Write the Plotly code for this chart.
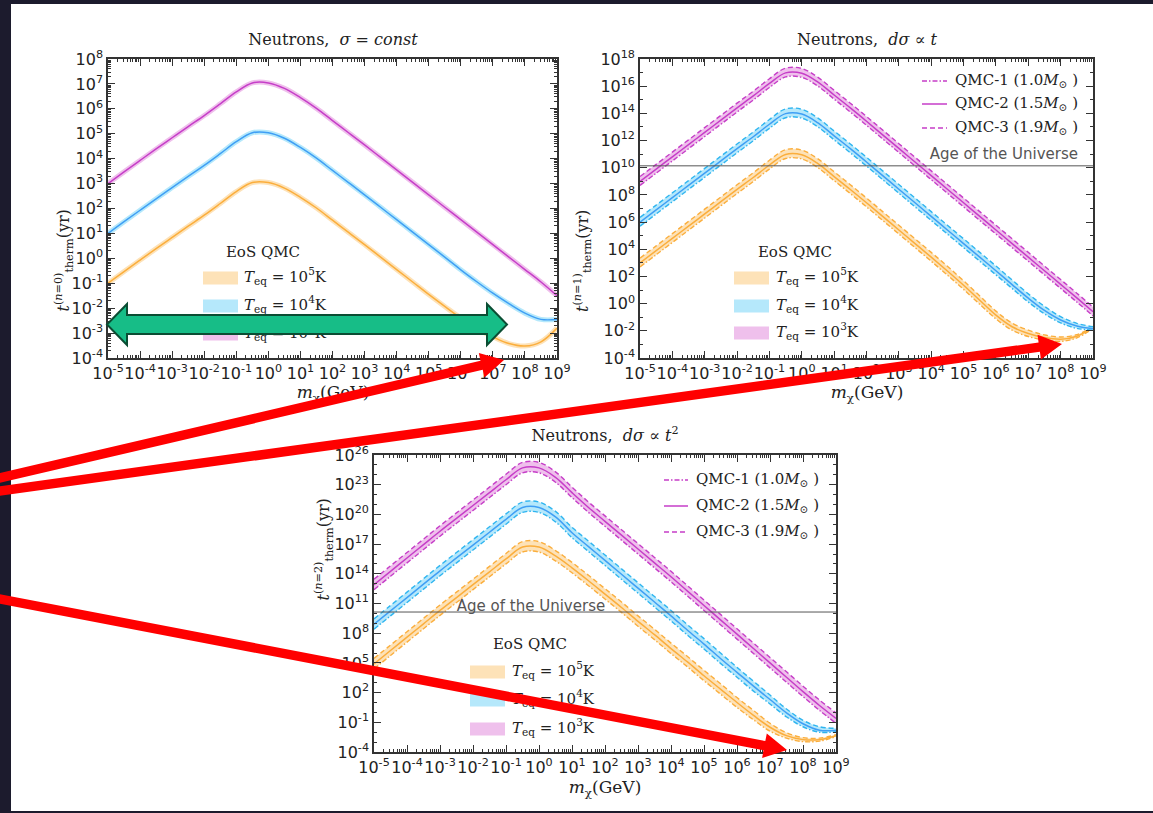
import numpy as np
import plotly.graph_objects as go

W, H = 1153, 813

logm = [-5, -4.5, -4, -3.5, -3, -2.5, -2, -1.5, -1, -0.5, 0, 0.5, 1, 1.5, 2, 2.5, 3, 3.5, 4, 4.5,
        5, 5.5, 6, 6.5, 7, 7.5, 8, 8.5, 9]

# panel 1: sigma = const, log10(t_therm / yr)
p1_T3 = [3.0, 3.47, 3.93, 4.39, 4.84, 5.29, 5.73, 6.2, 6.68, 7.04, 7.04, 6.82, 6.45, 6.02, 5.53, 5.04, 4.55, 4.05, 3.55, 3.05,
         2.55, 2.05, 1.55, 1.05, 0.55, 0.05, -0.45, -0.95, -1.5]
p1_T4 = [1.0, 1.47, 1.93, 2.39, 2.84, 3.29, 3.73, 4.2, 4.68, 5.04, 5.04, 4.82, 4.45, 4.02, 3.53, 3.04, 2.55, 2.05, 1.55, 1.05,
         0.55, 0.05, -0.46, -0.94, -1.4, -1.82, -2.2, -2.45, -2.45]
p1_T5 = [-1.0, -0.53, -0.07, 0.39, 0.84, 1.29, 1.73, 2.2, 2.68, 3.04, 3.04, 2.82, 2.45, 2.02, 1.53, 1.04, 0.55, 0.05, -0.45, -0.95,
         -1.45, -1.93, -2.4, -2.82, -3.15, -3.42, -3.52, -3.35, -2.8]

# panel 2: dsigma ~ t   (q1 = QMC-1, q2 = QMC-2, q3 = QMC-3)
p2_T3_q1 = [8.7, 9.6, 10.5, 11.4, 12.3, 13.2, 14.1, 14.98, 15.9, 16.68, 16.65, 16.0, 15.05, 14.1, 13.12, 12.12, 11.12, 10.12, 9.12, 8.12,
            7.12, 6.12, 5.12, 4.12, 3.12, 2.12, 1.12, 0.12, -0.9]
p2_T3_q2 = [9.0, 9.9, 10.8, 11.7, 12.6, 13.5, 14.4, 15.28, 16.2, 16.98, 16.95, 16.3, 15.35, 14.4, 13.42, 12.42, 11.42, 10.42, 9.42, 8.42,
            7.42, 6.42, 5.42, 4.42, 3.42, 2.42, 1.42, 0.42, -0.6]
p2_T3_q3 = [9.35, 10.25, 11.15, 12.05, 12.95, 13.85, 14.75, 15.63, 16.55, 17.33, 17.3, 16.65, 15.7, 14.75, 13.77, 12.77, 11.77, 10.77, 9.77, 8.77,
            7.77, 6.77, 5.77, 4.77, 3.77, 2.77, 1.77, 0.77, -0.25]
p2_T4_q1 = [5.7, 6.6, 7.5, 8.4, 9.3, 10.2, 11.1, 11.98, 12.9, 13.68, 13.65, 13.0, 12.05, 11.1, 10.12, 9.12, 8.12, 7.12, 6.12, 5.12,
            4.12, 3.12, 2.12, 1.12, 0.12, -0.75, -1.42, -1.82, -1.95]
p2_T4_q2 = [6.0, 6.9, 7.8, 8.7, 9.6, 10.5, 11.4, 12.28, 13.2, 13.98, 13.95, 13.3, 12.35, 11.4, 10.42, 9.42, 8.42, 7.42, 6.42, 5.42,
            4.42, 3.42, 2.42, 1.4, 0.4, -0.5, -1.2, -1.65, -1.85]
p2_T4_q3 = [6.35, 7.25, 8.15, 9.05, 9.95, 10.85, 11.75, 12.63, 13.55, 14.33, 14.3, 13.65, 12.7, 11.75, 10.77, 9.77, 8.77, 7.77, 6.77, 5.77,
            4.77, 3.77, 2.77, 1.74, 0.72, -0.2, -0.95, -1.45, -1.7]
p2_T5_q1 = [2.7, 3.6, 4.5, 5.4, 6.3, 7.2, 8.1, 8.98, 9.9, 10.68, 10.65, 10.0, 9.05, 8.1, 7.12, 6.12, 5.12, 4.12, 3.12, 2.1,
            1.05, -0.05, -1.12, -1.95, -2.42, -2.68, -2.78, -2.52, -1.82]
p2_T5_q2 = [3.0, 3.9, 4.8, 5.7, 6.6, 7.5, 8.4, 9.28, 10.2, 10.98, 10.95, 10.3, 9.35, 8.4, 7.42, 6.42, 5.42, 4.42, 3.42, 2.4,
            1.35, 0.25, -0.85, -1.7, -2.2, -2.5, -2.62, -2.4, -1.75]
p2_T5_q3 = [3.35, 4.25, 5.15, 6.05, 6.95, 7.85, 8.75, 9.63, 10.55, 11.33, 11.3, 10.65, 9.7, 8.75, 7.77, 6.77, 5.77, 4.77, 3.77, 2.75,
            1.68, 0.57, -0.55, -1.43, -1.95, -2.3, -2.45, -2.28, -1.68]

# panel 3: dsigma ~ t^2
p3_T3_q1 = [12.4, 13.75, 15.1, 16.45, 17.8, 19.1, 20.4, 21.7, 23.0, 24.2, 24.2, 23.25, 21.7, 20.2, 18.8, 17.4, 16.0, 14.6, 13.2, 11.75,
            10.3, 8.85, 7.4, 5.95, 4.5, 3.05, 1.6, 0.2, -1.1]
p3_T3_q2 = [12.9, 14.25, 15.6, 16.95, 18.3, 19.6, 20.9, 22.2, 23.5, 24.7, 24.7, 23.75, 22.2, 20.7, 19.3, 17.9, 16.5, 15.1, 13.7, 12.25,
            10.8, 9.35, 7.9, 6.45, 5.0, 3.55, 2.1, 0.7, -0.6]
p3_T3_q3 = [13.45, 14.8, 16.15, 17.5, 18.85, 20.15, 21.45, 22.75, 24.05, 25.25, 25.25, 24.3, 22.75, 21.25, 19.85, 18.45, 17.05, 15.65, 14.25, 12.8,
            11.35, 9.9, 8.45, 7.0, 5.55, 4.1, 2.65, 1.25, -0.05]
p3_T4_q1 = [8.4, 9.75, 11.1, 12.45, 13.8, 15.1, 16.4, 17.7, 19.0, 20.2, 20.2, 19.25, 17.65, 16.25, 14.85, 13.45, 12.05, 10.65, 9.25, 7.8,
            6.4, 4.95, 3.55, 2.15, 0.85, -0.45, -1.45, -2.0, -1.95]
p3_T4_q2 = [8.9, 10.25, 11.6, 12.95, 14.3, 15.6, 16.9, 18.2, 19.5, 20.7, 20.7, 19.75, 18.15, 16.75, 15.35, 13.95, 12.55, 11.15, 9.75, 8.3,
            6.9, 5.45, 4.05, 2.65, 1.3, -0.05, -1.15, -1.8, -1.8]
p3_T4_q3 = [9.45, 10.8, 12.15, 13.5, 14.85, 16.15, 17.45, 18.75, 20.05, 21.25, 21.25, 20.3, 18.7, 17.3, 15.9, 14.5, 13.1, 11.7, 10.3, 8.85,
            7.45, 6.0, 4.55, 3.15, 1.75, 0.35, -0.8, -1.45, -1.6]
p3_T5_q1 = [4.4, 5.75, 7.1, 8.45, 9.8, 11.1, 12.4, 13.7, 15.0, 16.2, 16.2, 15.3, 14.1, 12.8, 11.45, 10.1, 8.7, 7.35, 5.95, 4.6,
            3.2, 1.85, 0.5, -0.75, -1.9, -2.6, -2.95, -2.9, -2.45]
p3_T5_q2 = [4.9, 6.25, 7.6, 8.95, 10.3, 11.6, 12.9, 14.2, 15.5, 16.7, 16.7, 15.8, 14.6, 13.3, 11.95, 10.6, 9.2, 7.85, 6.45, 5.1,
            3.7, 2.35, 1.0, -0.3, -1.5, -2.35, -2.75, -2.75, -2.35]
p3_T5_q3 = [5.45, 6.8, 8.15, 9.5, 10.85, 12.15, 13.45, 14.75, 16.05, 17.25, 17.25, 16.35, 15.15, 13.85, 12.5, 11.15, 9.75, 8.4, 7.0, 5.65,
            4.25, 2.9, 1.5, 0.2, -1.1, -2.05, -2.55, -2.6, -2.25]

age_universe = 1.38e10  # yr

x_exps = list(range(-5, 10))
x_ticktext = [f"10<sup>{e}</sup>" for e in x_exps]
y1_exps = list(range(-4, 9))
y2_exps = list(range(-4, 19, 2))
y3_exps = list(range(-4, 27, 3))
temp_labels = ["<i>T</i><sub>eq</sub> = 10<sup>5</sup>K", "<i>T</i><sub>eq</sub> = 10<sup>4</sup>K", "<i>T</i><sub>eq</sub> = 10<sup>3</sup>K"]
qmc_labels = ["QMC-1 (1.0<i>M</i><sub>⊙</sub> )", "QMC-2 (1.5<i>M</i><sub>⊙</sub> )", "QMC-3 (1.9<i>M</i><sub>⊙</sub> )"]

SERIF = "DejaVu Serif"
SANS = "DejaVu Sans"
ORANGE, BLUE, MAG = "#fbae3c", "#3f9ff5", "#c63ec8"
BLUE_D = "#2fb5f0"
ORANGE_B, BLUE_B, MAG_B = "#fde2b8", "#b5e8fb", "#efc0ec"

M = 10 ** np.array(logm, dtype=float)


def pxx(x):
    return x / W


def pyy(y):
    return 1 - y / H


fig = go.Figure()

# ---- panel 1
for vals, col, band in [(p1_T5, ORANGE, ORANGE_B), (p1_T4, BLUE, BLUE_B), (p1_T3, MAG, MAG_B)]:
    yv = 10 ** np.array(vals)
    fig.add_trace(go.Scatter(x=M, y=yv, mode="lines", xaxis="x", yaxis="y",
                             line=dict(color=band, width=5, shape="spline"), hoverinfo="skip"))
    fig.add_trace(go.Scatter(x=M, y=yv, mode="lines", xaxis="x", yaxis="y",
                             line=dict(color=col, width=1.5, shape="spline")))

# ---- panels 2 and 3
DASHDOT = "5px,2px,1.5px,2px"
DASH = "5px,3px"
panels = [
    ("x2", "y2", [(p2_T5_q1, p2_T5_q2, p2_T5_q3, ORANGE, ORANGE, ORANGE_B),
                  (p2_T4_q1, p2_T4_q2, p2_T4_q3, BLUE, BLUE_D, BLUE_B),
                  (p2_T3_q1, p2_T3_q2, p2_T3_q3, MAG, MAG, MAG_B)]),
    ("x3", "y3", [(p3_T5_q1, p3_T5_q2, p3_T5_q3, ORANGE, ORANGE, ORANGE_B),
                  (p3_T4_q1, p3_T4_q2, p3_T4_q3, BLUE, BLUE_D, BLUE_B),
                  (p3_T3_q1, p3_T3_q2, p3_T3_q3, MAG, MAG, MAG_B)]),
]
for xa, ya, groups in panels:
    for q1, q2, q3, col, dcol, band in groups:
        y1, y2, y3 = (10 ** np.array(v) for v in (q1, q2, q3))
        fig.add_trace(go.Scatter(x=M, y=y3, mode="lines", xaxis=xa, yaxis=ya,
                                 line=dict(width=0, shape="spline"), hoverinfo="skip"))
        fig.add_trace(go.Scatter(x=M, y=y1, mode="lines", xaxis=xa, yaxis=ya, fill="tonexty",
                                 fillcolor=band, line=dict(width=0, shape="spline"), hoverinfo="skip"))
        fig.add_trace(go.Scatter(x=M, y=y1, mode="lines", xaxis=xa, yaxis=ya,
                                 line=dict(color=dcol, width=1.4, dash=DASHDOT, shape="spline")))
        fig.add_trace(go.Scatter(x=M, y=y3, mode="lines", xaxis=xa, yaxis=ya,
                                 line=dict(color=dcol, width=1.4, dash=DASH, shape="spline")))
        fig.add_trace(go.Scatter(x=M, y=y2, mode="lines", xaxis=xa, yaxis=ya,
                                 line=dict(color=col, width=1.5, shape="spline")))
    fig.add_trace(go.Scatter(x=[M[0], M[-1]], y=[age_universe, age_universe], mode="lines",
                             xaxis=xa, yaxis=ya, line=dict(color="#555", width=1)))

# ---- free text on a full-figure overlay axis (pixel coordinates)
texts = [
    (333, 41, "Neutrons,  <i>σ</i> = <i>const</i>", SERIF, 16, "#222", "middle center"),
    (867, 41, "Neutrons,  <i>dσ</i> ∝ <i>t</i>", SERIF, 16, "#222", "middle center"),
    (605, 437, "Neutrons,  <i>dσ</i> ∝ <i>t</i><sup>2</sup>", SERIF, 16, "#222", "middle center"),
    (333, 394, "<i>m</i><sub>χ</sub>(GeV)", SERIF, 17, "#222", "middle center"),
    (867, 394, "<i>m</i><sub>χ</sub>(GeV)", SERIF, 17, "#222", "middle center"),
    (605, 789, "<i>m</i><sub>χ</sub>(GeV)", SERIF, 17, "#222", "middle center"),
    (263, 253, "EoS QMC", SERIF, 15, "#222", "middle center"),
    (795, 253, "EoS QMC", SERIF, 15, "#222", "middle center"),
    (530, 645, "EoS QMC", SERIF, 15, "#222", "middle center"),
    (1078, 155, "Age of the Universe", SANS, 15, "#555", "middle left"),
    (531, 607, "Age of the Universe", SANS, 15, "#555", "middle center"),
]
leg_rows = [(244, [278, 306, 334]), (776, [278, 306, 333]), (512, [672, 700, 729])]
for x0, ys in leg_rows:
    for lab, yy in zip(temp_labels, ys):
        texts.append((x0, yy, lab, SERIF, 15, "#222", "middle right"))
qmc_rows = [(955, [81, 104, 128]), (696, [480, 506, 532])]
for x0, ys in qmc_rows:
    for lab, yy in zip(qmc_labels, ys):
        texts.append((x0, yy, lab, SERIF, 15, "#222", "middle right"))

for x, y, t, fam, size, col, pos in texts:
    fig.add_trace(go.Scatter(x=[x], y=[y], mode="text", text=[t], textposition=pos,
                             textfont=dict(family=fam, size=size, color=col),
                             xaxis="x4", yaxis="y4", cliponaxis=False, hoverinfo="skip"))


# ---- axes
def log_axis(exps, labels, rng, domain, anchor, minor_vals):
    return dict(type="log", range=rng, domain=domain, anchor=anchor,
                tickmode="array", tickvals=[10.0 ** e for e in exps], ticktext=labels,
                showline=True, linecolor="#333", linewidth=1.6, mirror="allticks",
                ticks="inside", ticklen=7, tickwidth=1, tickcolor="#333",
                tickfont=dict(family=SANS, size=16, color="#222"), tickangle=0,
                showgrid=False, zeroline=False, fixedrange=True, automargin=False,
                minor=dict(tickmode="array", tickvals=minor_vals, ticks="inside", ticklen=3.5,
                           tickwidth=0.8, tickcolor="#333", showgrid=False))


x_minor = [k * 10.0 ** e for e in range(-5, 9) for k in range(2, 10)]
y1_minor = [k * 10.0 ** e for e in range(-4, 8) for k in range(2, 10)]
y2_minor = [10.0 ** e for e in range(-3, 18, 2)]
y3_minor = [10.0 ** e for e in range(-4, 27) if (e + 4) % 3]

d1x = [pxx(108), pxx(557)]
d2x = [pxx(640), pxx(1093)]
d3x = [pxx(374), pxx(836)]
dtop = [pyy(358), pyy(59)]
dbot = [pyy(752), pyy(455)]

fig.update_layout(
    xaxis=log_axis(x_exps, x_ticktext, [-5, 9], d1x, "y", x_minor),
    yaxis=log_axis(y1_exps, [f"10<sup>{e}</sup>" for e in y1_exps], [-4, 8], dtop, "x", y1_minor),
    xaxis2=log_axis(x_exps, x_ticktext, [-5, 9], d2x, "y2", x_minor),
    yaxis2=log_axis(y2_exps, [f"10<sup>{e}</sup>" for e in y2_exps], [-4, 18], dtop, "x2", y2_minor),
    xaxis3=log_axis(x_exps, x_ticktext, [-5, 9], d3x, "y3", x_minor),
    yaxis3=log_axis(y3_exps, [f"10<sup>{e}</sup>" for e in y3_exps], [-4, 26], dbot, "x3", y3_minor),
    xaxis4=dict(domain=[0, 1], range=[0, W], anchor="y4", visible=False, fixedrange=True),
    yaxis4=dict(domain=[0, 1], range=[H, 0], anchor="x4", visible=False, fixedrange=True),
)

# y-axis titles (rotated)
for x, y, n in [(50, 208, 0), (582, 208, 1), (310, 603, 2)]:
    fig.add_annotation(x=pxx(x), y=pyy(y), xref="paper", yref="paper", showarrow=False, textangle=-90,
                       text=f"<i>t</i><sup>(<i>n</i>={n})</sup><sub>therm</sub>(yr)",
                       font=dict(family=SERIF, size=16, color="#222"))

shapes = []
# white slide area
shapes.append(dict(type="rect", xref="paper", yref="paper", x0=pxx(11), x1=1, y0=pyy(811), y1=pyy(4),
                   fillcolor="white", line=dict(width=0), layer="below"))
# legend patches
for x0, ys in [(203, [278, 306, 334]), (734, [278, 306, 333]), (470, [672, 700, 729])]:
    for yy, c in zip(ys, [ORANGE_B, BLUE_B, MAG_B]):
        shapes.append(dict(type="rect", xref="x4", yref="y4", x0=x0, x1=x0 + 35, y0=yy - 6.5, y1=yy + 6.5,
                           fillcolor=c, line=dict(width=0), layer="above"))
# line-style samples
for x0, x1, ys in [(922, 947, [81, 104, 128]), (664, 688, [480, 506, 532])]:
    for yy, d in zip(ys, [DASHDOT, "solid", DASH]):
        shapes.append(dict(type="line", xref="x4", yref="y4", x0=x0, x1=x1, y0=yy, y1=yy,
                           line=dict(color=MAG, width=1.5, dash=d), layer="above"))


def arrow_path(x0, y0, x1, y1, w, hl, hw):
    dx, dy = x1 - x0, y1 - y0
    L = (dx * dx + dy * dy) ** 0.5
    ux, uy = dx / L, dy / L
    nx, ny = -uy, ux
    bx, by = x1 - ux * hl, y1 - uy * hl
    pts = [(x0 + nx * w, y0 + ny * w), (bx + nx * w, by + ny * w), (bx + nx * hw, by + ny * hw), (x1, y1),
           (bx - nx * hw, by - ny * hw), (bx - nx * w, by - ny * w), (x0 - nx * w, y0 - ny * w)]
    return "M " + " L ".join(f"{x:.1f},{y:.1f}" for x, y in pts) + " Z"


# green double arrow
gy = 324.5
gpts = [(107, gy), (127, gy - 20.5), (127, gy - 9.5), (487, gy - 9.5), (487, gy - 20.5), (507, gy),
        (487, gy + 20.5), (487, gy + 9.5), (127, gy + 9.5), (127, gy + 20.5)]
shapes.append(dict(type="path", xref="x4", yref="y4", layer="above",
                   path="M " + " L ".join(f"{x},{y}" for x, y in gpts) + " Z",
                   fillcolor="#17bd87", line=dict(color="#0b4d33", width=2)))
# red arrows
for x0, y0, x1, y1 in [(-10, 480.3, 504, 360), (-10, 492.4, 1062, 344), (-10, 597.1, 787, 750)]:
    shapes.append(dict(type="path", xref="x4", yref="y4", layer="above",
                       path=arrow_path(x0, y0, x1, y1, 4.7, 23, 12.5),
                       fillcolor="#ff0000", line=dict(width=0)))

fig.update_layout(
    shapes=shapes,
    width=W, height=H, autosize=False,
    margin=dict(l=0, r=0, t=0, b=0, pad=0, autoexpand=False),
    paper_bgcolor="#1c1b2d",
    plot_bgcolor="rgba(0,0,0,0)",
    showlegend=False,
)

fig.write_html("out.html", config={"displayModeBar": False},
               post_script="document.body.style.margin='0';document.body.style.overflow='hidden';")
